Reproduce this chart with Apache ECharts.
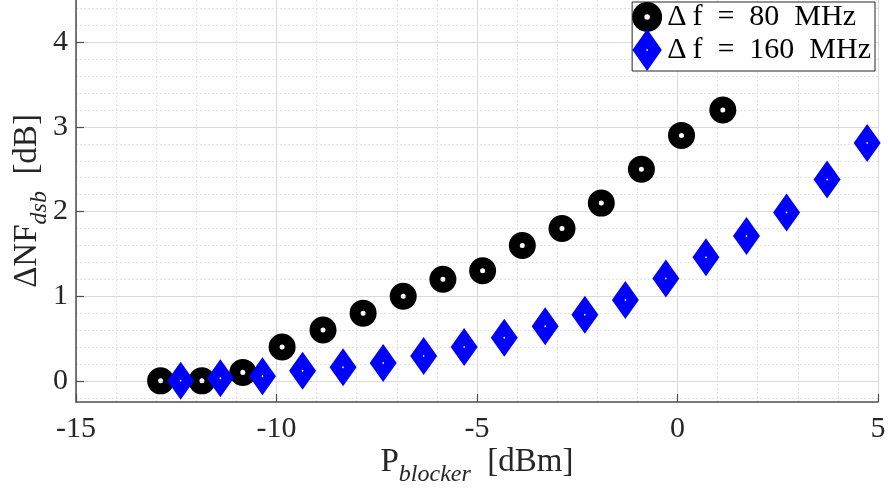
<!DOCTYPE html>
<html>
<head>
<meta charset="utf-8">
<script src="https://cdn.jsdelivr.net/npm/echarts@6/dist/echarts.min.js"></script>
<style>
  html, body { margin: 0; padding: 0; background: #ffffff; }
  #chart { width: 888px; height: 495px; }
</style>
</head>
<body>
<div id="chart"></div>
<script>
// Blocker power sweep (dBm) and the resulting DSB noise-figure increase (dB)
const pBlocker80 = [-12.89, -11.86, -10.84, -9.86, -8.84, -7.84, -6.84, -5.85, -4.86, -3.87, -2.88, -1.90, -0.90, 0.10, 1.13];
const dNF80      = [0.00, 0.00, 0.10, 0.40, 0.60, 0.80, 1.00, 1.20, 1.30, 1.60, 1.80, 2.10, 2.50, 2.90, 3.20];

const pBlocker160 = [-12.39, -11.40, -10.35, -9.35, -8.34, -7.34, -6.33, -5.32, -4.32, -3.30, -2.31, -1.30, -0.29, 0.71, 1.72, 2.72, 3.73, 4.73];
const dNF160      = [0.00, 0.03, 0.055, 0.12, 0.16, 0.21, 0.295, 0.40, 0.51, 0.645, 0.78, 0.956, 1.21, 1.46, 1.71, 1.99, 2.38, 2.81];

const seriesNames = ['\u0394\u2009f\u2002=\u200280\u2002MHz', '\u0394\u2009f\u2002=\u2002160\u2002MHz'];

// Axis ticks
const yMajorTicks = [0, 1, 2, 3, 4];
const yMinorTicks = [-0.2, 0.2, 0.4, 0.6, 0.8, 1.2, 1.4, 1.6, 1.8, 2.2, 2.4, 2.6, 2.8, 3.2, 3.4, 3.6, 3.8, 4.2, 4.4];

const SERIF = '"Liberation Serif", "Times New Roman", serif';
const TXT = '#262626';

// Ring marker (outer disc with a small hole) and diamond with a pin-hole centre
const ringPath = 'path://M14,0A14,14 0 1 1 14,28A14,14 0 1 1 14,0ZM14,11.4A2.6,2.6 0 1 0 14,16.6A2.6,2.6 0 1 0 14,11.4Z';
const diamondPath = 'path://M14,0L28,20L14,40L0,20ZM14,18.7L13,20L14,21.3L15,20Z';

const toPairs = (xs, ys) => xs.map((x, i) => [x, ys[i]]);

// Axis titles: upright main text with a lowered italic subscript
const richName = {
  p: { fontFamily: SERIF, fontSize: 33, color: TXT, lineHeight: 50, verticalAlign: 'middle' },
  s: { fontFamily: SERIF, fontSize: 24, fontStyle: 'italic', color: TXT, lineHeight: 24, verticalAlign: 'bottom' }
};

const chart = echarts.init(document.getElementById('chart'), null, { renderer: 'canvas' });

chart.setOption({
  animation: false,
  backgroundColor: '#ffffff',
  grid: { left: 76, right: 10, top: 0, bottom: 93, containLabel: false, outerBoundsMode: 'none' },
  legend: {
    orient: 'vertical',
    right: 13,
    top: 2,
    padding: [0, 4, 0, 0],
    itemWidth: 30,
    itemHeight: 42,
    itemGap: -3,
    itemTextGap: 5,
    borderColor: '#262626',
    borderWidth: 1,
    backgroundColor: '#ffffff',
    textStyle: { fontFamily: SERIF, fontSize: 30, color: '#000000' },
    data: seriesNames
  },
  xAxis: {
    type: 'value',
    min: -15,
    max: 5,
    interval: 5,
    name: '{p|P}{s|blocker}{p|\u2002[dBm]}',
    nameLocation: 'middle',
    nameGap: 35,
    nameMoveOverlap: false,
    nameTextStyle: { rich: richName },
    axisLine: { show: true, onZero: false, lineStyle: { color: '#4d4d4d', width: 1.5 } },
    axisTick: { show: true, inside: true, length: 8, lineStyle: { color: '#4d4d4d', width: 1.2 } },
    axisLabel: { fontFamily: SERIF, fontSize: 30, color: TXT, margin: 12 },
    splitLine: { show: true, lineStyle: { color: '#dadada', width: 1 } },
    minorTick: { show: false, splitNumber: 5 },
    minorSplitLine: { show: true, lineStyle: { color: '#e3e3e3', width: 1, type: [2, 2] } }
  },
  yAxis: [
    {
      type: 'value',
      min: -0.25,
      max: 4.5,
      name: '{p|\u0394NF}{s|dsb}{p|\u2002[dB]}',
      nameLocation: 'middle',
      nameGap: 24,
      nameMoveOverlap: false,
      nameTextStyle: { rich: richName },
      axisLine: { show: true, onZero: false, lineStyle: { color: '#4d4d4d', width: 1.5 } },
      axisTick: { show: true, inside: true, length: 8, customValues: yMajorTicks, lineStyle: { color: '#4d4d4d', width: 1.2 } },
      axisLabel: { fontFamily: SERIF, fontSize: 30, color: TXT, margin: 8, customValues: yMajorTicks },
      splitLine: { show: true, lineStyle: { color: '#dadada', width: 1 } }
    },
    {
      // dotted minor grid on the value axis
      type: 'value',
      min: -0.25,
      max: 4.5,
      position: 'left',
      axisLine: { show: false },
      axisTick: { show: false, customValues: yMinorTicks },
      axisLabel: { show: false },
      splitLine: { show: true, lineStyle: { color: '#e3e3e3', width: 1, type: [2, 2] } }
    }
  ],
  series: [
    {
      name: seriesNames[0],
      type: 'scatter',
      yAxisIndex: 0,
      symbol: ringPath,
      symbolSize: [27, 27],
      itemStyle: { color: '#000000', opacity: 1 },
      data: toPairs(pBlocker80, dNF80),
      z: 3
    },
    {
      name: seriesNames[1],
      type: 'scatter',
      yAxisIndex: 0,
      symbol: diamondPath,
      symbolSize: [27, 38],
      itemStyle: { color: '#0000ff', opacity: 1 },
      data: toPairs(pBlocker160, dNF160),
      z: 4
    }
  ]
});
</script>
</body>
</html>
